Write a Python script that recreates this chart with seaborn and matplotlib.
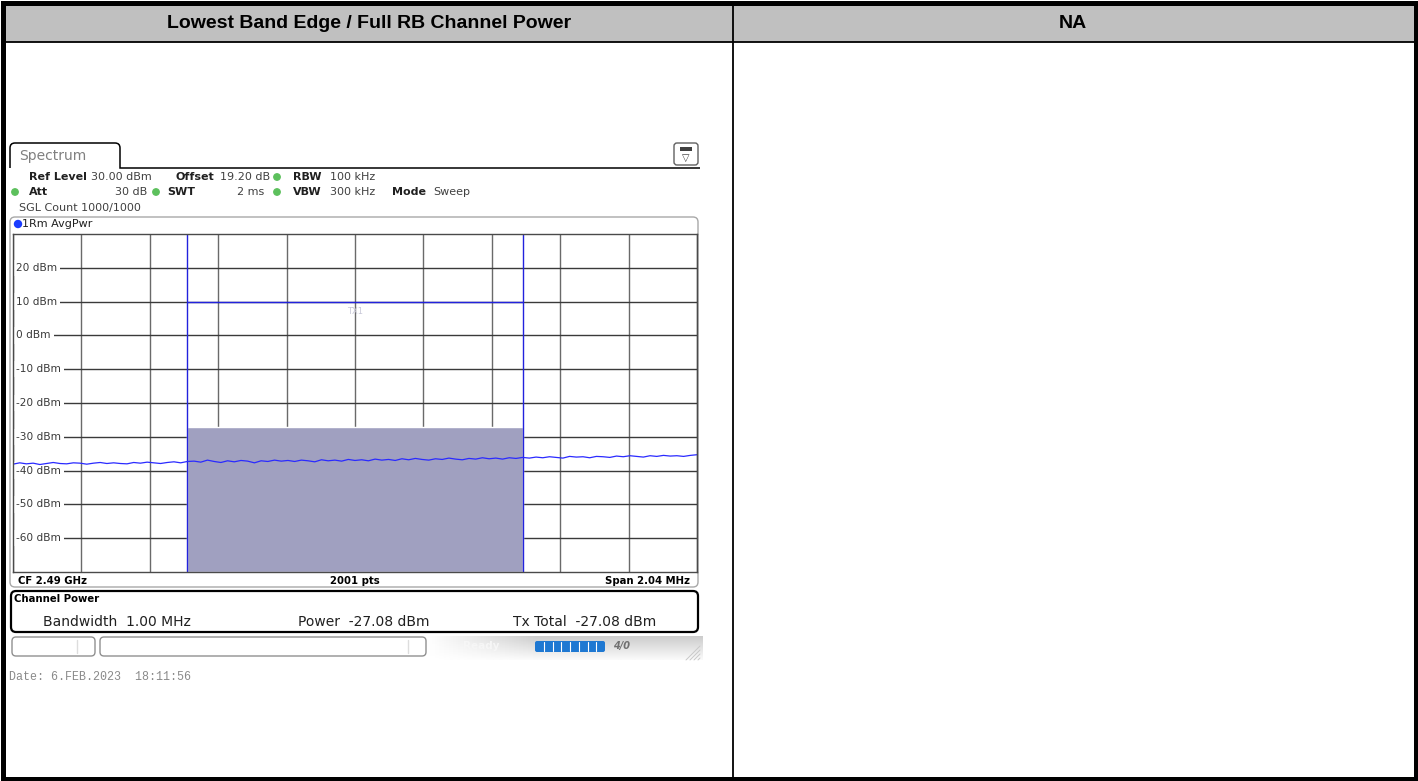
import numpy as np
import pandas as pd
import seaborn as sns
import matplotlib.pyplot as plt
from matplotlib.patches import Rectangle, FancyBboxPatch, Circle, PathPatch
from matplotlib.path import Path

# Table header texts
header_left = 'Lowest Band Edge / Full RB Channel Power'
header_right = 'NA'

# Analyzer settings
ref_level_dbm = 30
bottom_level_dbm = -70
span_mhz = 2.04
channel_bw_mhz = 1.00
channel_power_dbm = -27.08
level_ticks = [20, 10, 0, -10, -20, -30, -40, -50, -60]
level_labels = ['20 dBm', '10 dBm', '0 dBm', '-10 dBm', '-20 dBm', '-30 dBm',
                '-40 dBm', '-50 dBm', '-60 dBm']

# Noise floor trace (dBm) left to right across the span
trace_dbm = [
    -38.1, -37.7, -38.0, -37.8, -38.2, -37.9, -37.6, -37.9, -38.0, -37.7,
    -37.8, -38.1, -37.8, -37.6, -37.9, -37.7, -37.9, -38.0, -37.6, -37.8,
    -37.5, -37.7, -37.9, -37.6, -37.4, -37.7, -37.3,
    -37.2, -37.5, -36.9, -37.3, -37.6, -37.1, -37.4, -37.0, -37.2, -37.7,
    -37.1, -37.3, -36.9, -37.2, -37.0, -37.3, -36.9, -37.1, -37.4, -36.8,
    -37.1, -36.9, -37.2, -36.7, -37.0, -36.8, -37.1, -36.6, -36.9, -36.7,
    -37.0, -36.5, -36.8, -36.4, -36.7, -36.9, -36.5, -36.7, -36.3, -36.6,
    -36.8, -36.4, -36.6, -36.2, -36.5, -36.3, -36.6, -36.2, -36.4,
    -36.1, -36.3, -36.0, -36.2, -35.9, -36.1, -36.3, -35.8, -36.0, -35.9,
    -36.2, -35.8, -35.9, -36.1, -35.7, -35.9, -35.6, -35.8, -36.0, -35.6,
    -35.8, -35.5, -35.7, -35.6, -35.8, -35.5, -35.3,
]

# Info lines of the analyzer screen: (text, x, y, bold)
info_texts = [
    ('Ref Level', 29, 177, True), ('30.00 dBm', 91, 177, False),
    ('Offset', 175, 177, True), ('19.20 dB', 220, 177, False),
    ('RBW', 293, 177, True), ('100 kHz', 330, 177, False),
    ('Att', 29, 192, True), ('SWT', 167, 192, True),
    ('VBW', 293, 192, True), ('300 kHz', 330, 192, False),
    ('Mode', 392, 192, True), ('Sweep', 433, 192, False),
    ('SGL Count 1000/1000', 19, 208, False),
]
info_right = [('30 dB', 147, 192), ('2 ms', 264, 192)]
green_dots = [(277, 177), (15, 192), (156, 192), (277, 192)]

sns.set_style('white')
plt.rcParams['font.family'] = ['DejaVu Sans']
plt.rcParams['text.color'] = 'black'

W, H = 1418, 781
fig = plt.figure(figsize=(W / 100, H / 100), dpi=100)
bg = fig.add_axes([0, 0, 1, 1])
bg.axis('off')

# ---- table ----
bg.add_patch(Rectangle((4, 4), 1410, 38, fc='#c0c0c0', ec='none'))
bg.plot([4, 1414], [42, 42], color='black', lw=1.3)
bg.plot([733, 733], [4, 778], color='black', lw=1.3)
bg.add_patch(Rectangle((2.5, 2.5), 1413, 776, fill=False, ec='black', lw=3.6))
bg.text(369, 24, header_left, ha='center', va='center', fontsize=14,
        fontweight='bold', family='Liberation Sans', color='black')
bg.text(1073, 24, header_right, ha='center', va='center', fontsize=14,
        fontweight='bold', family='Liberation Sans', color='black')

# ---- analyzer screen frame ----
tab = Path([(10, 168), (10, 148), (10, 143), (15, 143), (115, 143), (120, 143),
            (120, 148), (120, 168), (700, 168)],
           [Path.MOVETO, Path.LINETO, Path.CURVE3, Path.CURVE3, Path.LINETO,
            Path.CURVE3, Path.CURVE3, Path.LINETO, Path.LINETO])
bg.add_patch(PathPatch(tab, fill=False, ec='black', lw=1.1))
bg.text(19, 156, 'Spectrum', fontsize=10, color='#808080', va='center')

bg.add_patch(FancyBboxPatch((674, 143), 24, 22, boxstyle='round,pad=0,rounding_size=3',
                            fc='white', ec='#606060', lw=1))
bg.add_patch(Rectangle((680, 147), 12, 4, fc='#404040', ec='none'))
bg.text(686, 158, '\u25bd', fontsize=7, ha='center', va='center', color='#404040')

for txt, x, y, b in info_texts:
    bg.text(x, y, txt, fontsize=8, va='center', ha='left',
            fontweight='bold' if b else 'normal', color='#202020' if b else '#404040')
for txt, x, y in info_right:
    bg.text(x, y, txt, fontsize=8, va='center', ha='right', color='#404040')
for x, y in green_dots:
    bg.add_patch(Circle((x, y), 3.2, color='#5cc05c'))

bg.add_patch(FancyBboxPatch((10, 217), 688, 370, boxstyle='round,pad=0,rounding_size=5',
                            fc='white', ec='#a8a8a8', lw=1))
bg.add_patch(Circle((18, 224), 3.5, color='#1a3cff'))
bg.text(22, 224, '1Rm AvgPwr', fontsize=8, va='center', color='#202020')

bg.text(18, 581, 'CF 2.49 GHz', fontsize=7.3, fontweight='bold', va='center')
bg.text(355, 581, '2001 pts', fontsize=7.3, fontweight='bold', va='center', ha='center')
bg.text(690, 581, 'Span 2.04 MHz', fontsize=7.3, fontweight='bold', va='center', ha='right')

# channel power result box
bg.add_patch(FancyBboxPatch((11, 591), 687, 41, boxstyle='round,pad=0,rounding_size=5',
                            fc='white', ec='black', lw=1.6))
bg.text(14, 599, 'Channel Power', fontsize=7.3, fontweight='bold', va='center')
bg.text(43, 622, 'Bandwidth  1.00 MHz', fontsize=10, va='center', color='#202020')
bg.text(298, 622, 'Power  %.2f dBm' % channel_power_dbm, fontsize=10, va='center', color='#202020')
bg.text(513, 622, 'Tx Total  %.2f dBm' % channel_power_dbm, fontsize=10, va='center', color='#202020')

# status bar
grad = np.linspace(0.80, 0.98, 24)[:, None] * np.ones((1, 60))
fade = np.clip(np.linspace(0, 2.5, 60), 0, 1)[None, :]
grad = 1 - (1 - grad) * fade
bg.imshow(grad, extent=(423, 703, 660, 636), aspect='auto', cmap='gray',
          vmin=0, vmax=1, interpolation='bilinear', zorder=1)
bg.add_patch(FancyBboxPatch((12, 637), 83, 19, boxstyle='round,pad=0,rounding_size=4',
                            fc='white', ec='#909090', lw=1, zorder=2))
bg.add_patch(FancyBboxPatch((100, 637), 326, 19, boxstyle='round,pad=0,rounding_size=4',
                            fc='white', ec='#909090', lw=1, zorder=2))
bg.plot([77, 77], [640, 653], color='#dddddd', lw=1, zorder=3)
bg.plot([408, 408], [640, 653], color='#dddddd', lw=1, zorder=3)
bg.text(481, 646, 'Ready', fontsize=7.5, fontweight='bold', color='#f6f6f6',
        ha='center', va='center', zorder=3)
bg.add_patch(FancyBboxPatch((535, 641), 70, 11, boxstyle='round,pad=0,rounding_size=2',
                            fc='#1e78d2', ec='none', zorder=3))
for k in range(1, 8):
    bg.plot([535 + 8.75 * k] * 2, [642, 651], color='white', lw=0.8, zorder=4)
bg.text(622, 646, '4/0', fontsize=7, fontweight='bold', style='italic',
        color='#707070', ha='center', va='center', zorder=3)
for k in range(4):
    bg.plot([686 + 4 * k, 700], [660, 646 + 4 * k], color='#c8c8c8', lw=0.7, zorder=3)

bg.text(9, 677, 'Date: 6.FEB.2023  18:11:56', fontsize=8.4, family='Liberation Mono',
        color='#8a8a8a', va='center')

bg.set_xlim(0, W)
bg.set_ylim(H, 0)

# ---- spectrum diagram ----
left, top, right, bottom = 13, 234, 697, 572
ax = fig.add_axes([left / W, 1 - bottom / H, (right - left) / W, (bottom - top) / H])
ax.set_facecolor('white')

offsets = np.linspace(-span_mhz / 2, span_mhz / 2, len(trace_dbm))
df = pd.DataFrame({'offset_mhz': offsets, 'level_dbm': trace_dbm})

# channel power bar and channel limits
ax.bar(0, channel_power_dbm - bottom_level_dbm, width=channel_bw_mhz,
       bottom=bottom_level_dbm, color='#a0a0c0', zorder=2)
ax.vlines([-channel_bw_mhz / 2, channel_bw_mhz / 2], bottom_level_dbm, ref_level_dbm,
          color='#2222dd', lw=1, zorder=3)
ax.hlines(10, -channel_bw_mhz / 2, channel_bw_mhz / 2, color='#2222dd', lw=1, zorder=3)
ax.text(0, 8.5, 'TX1', fontsize=6, color='#c8c8d8', ha='center', va='top', zorder=3)

for v, lbl in zip(level_ticks, level_labels):
    ax.text(0.0045, v, lbl, transform=ax.get_yaxis_transform(), fontsize=7.6,
            color='#3a3a3a', va='center', ha='left', zorder=3.5,
            bbox=dict(boxstyle='square,pad=0.3', fc='white', ec='none'))

sns.lineplot(data=df, x='offset_mhz', y='level_dbm', ax=ax, color='#2a2aff',
             lw=0.9, zorder=5)

ax.set_xlim(-span_mhz / 2, span_mhz / 2)
ax.set_ylim(bottom_level_dbm, ref_level_dbm)
ax.set_xticks(np.linspace(-span_mhz / 2, span_mhz / 2, 11))
ax.set_yticks(level_ticks)
ax.set_axisbelow(True)
ax.xaxis.grid(True, color='#6a6a6a', lw=1)
ax.yaxis.grid(True, color='#3a3a3a', lw=1)
ax.tick_params(length=0, labelbottom=False, labelleft=False)
ax.set_xlabel('')
ax.set_ylabel('')
for s in ax.spines.values():
    s.set_color('#4a4a4a')
    s.set_linewidth(1)
    s.set_zorder(6)

fig.savefig('out.png', dpi=100)
